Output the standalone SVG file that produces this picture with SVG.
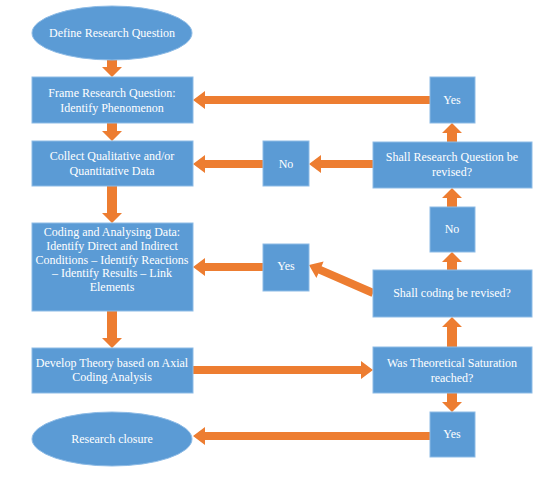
<svg xmlns="http://www.w3.org/2000/svg" width="542" height="483" viewBox="0 0 542 483">
<style>
.n{fill:#5B9BD5;stroke:#8DBBE6;stroke-width:1}
.t{fill:#fff;font-family:'Liberation Serif','Times New Roman','DejaVu Serif',serif;font-size:12px;text-anchor:middle}
.a{fill:#ED7D31}
</style>
<rect width="542" height="483" fill="#fff"/>
<g id="connectors">
<polygon class="a" points="107,60 117,60 117,67 122,67 112,77 102,67 107,67"/>
<polygon class="a" points="107,123 117,123 117,131 122,131 112,141 102,131 107,131"/>
<polygon class="a" points="107,186 117,186 117,213 122,213 112,223 102,213 107,213"/>
<polygon class="a" points="107,311 117,311 117,338 122,338 112,348 102,338 107,338"/>
<polygon class="a" points="447,207 457,207 457,198 462,198 452,188 442,198 447,198"/>
<polygon class="a" points="447,142 457,142 457,133 462,133 452,123 442,133 447,133"/>
<polygon class="a" points="447,270 457,270 457,262 462,262 452,252 442,262 447,262"/>
<polygon class="a" points="447,347 457,347 457,327 462,327 452,317 442,327 447,327"/>
<polygon class="a" points="447,393 457,393 457,402 462,402 452,412 442,402 447,402"/>
<polygon class="a" points="430,96 430,104 205,104 205,109 193,100 205,91 205,96"/>
<polygon class="a" points="373,160 373,168 321,168 321,173 309,164 321,155 321,160"/>
<polygon class="a" points="263,160 263,168 205,168 205,173 193,164 205,155 205,160"/>
<polygon class="a" points="263,263 263,271 205,271 205,276 193,267 205,258 205,263"/>
<polygon class="a" points="193,366 193,374 361,374 361,379 373,370 361,361 361,366"/>
<polygon class="a" points="430,432 430,440 205,440 205,445 193,436 205,427 205,432"/>
<polygon class="a" transform="translate(309,265) rotate(23.6)" points="70,-4 70,4 12,4 12,9 0,0 12,-9 12,-4"/>
</g>
<g id="define"><ellipse class="n" cx="112" cy="33" rx="80" ry="27"/><text class="t" x="112" y="37">Define Research Question</text></g>
<g id="frame"><rect class="n" x="32" y="77" width="161" height="46"/><text class="t" x="112" y="97">Frame Research Question:</text><text class="t" x="112" y="112">Identify Phenomenon</text></g>
<g id="collect"><rect class="n" x="32" y="141" width="161" height="45"/><text class="t" x="112" y="160">Collect Qualitative and/or</text><text class="t" x="112" y="175">Quantitative Data</text></g>
<g id="coding"><rect class="n" x="32" y="223" width="161" height="88"/><text class="t" x="112" y="236">Coding and Analysing Data:</text><text class="t" x="112" y="250">Identify Direct and Indirect</text><text class="t" x="112" y="264">Conditions – Identify Reactions</text><text class="t" x="112" y="277">– Identify Results – Link</text><text class="t" x="112" y="291">Elements</text></g>
<g id="develop"><rect class="n" x="32" y="348" width="161" height="45"/><text class="t" x="112" y="367">Develop Theory based on Axial</text><text class="t" x="112" y="381">Coding Analysis</text></g>
<g id="closure"><ellipse class="n" cx="112" cy="439" rx="80" ry="27"/><text class="t" x="112" y="443">Research closure</text></g>
<g id="yes1"><rect class="n" x="430" y="77" width="45" height="46"/><text class="t" x="452" y="104">Yes</text></g>
<g id="shallrq"><rect class="n" x="373" y="142" width="159" height="46"/><text class="t" x="452" y="161">Shall Research Question be</text><text class="t" x="452" y="176">revised?</text></g>
<g id="no1"><rect class="n" x="263" y="141" width="46" height="45"/><text class="t" x="286" y="168">No</text></g>
<g id="no2"><rect class="n" x="430" y="207" width="45" height="45"/><text class="t" x="452" y="233">No</text></g>
<g id="shallcoding"><rect class="n" x="373" y="270" width="159" height="47"/><text class="t" x="452" y="297">Shall coding be revised?</text></g>
<g id="yes2"><rect class="n" x="263" y="244" width="46" height="47"/><text class="t" x="286" y="270">Yes</text></g>
<g id="saturation"><rect class="n" x="373" y="347" width="159" height="46"/><text class="t" x="452" y="367">Was Theoretical Saturation</text><text class="t" x="452" y="382">reached?</text></g>
<g id="yes3"><rect class="n" x="430" y="412" width="45" height="45"/><text class="t" x="452" y="438">Yes</text></g>
</svg>
